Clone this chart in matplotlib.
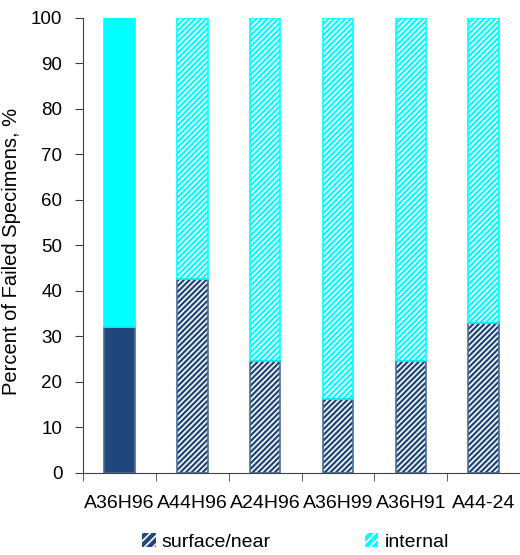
import numpy as np
import matplotlib.pyplot as plt
from matplotlib.patches import Patch

plt.rcParams['font.family'] = ['Liberation Sans', 'DejaVu Sans']
plt.rcParams['hatch.linewidth'] = 1.2

# Data
groups = ['A36H96', 'A44H96', 'A24H96', 'A36H99', 'A36H91', 'A44-24']
surface = [32.0, 42.5, 24.5, 16.3, 24.5, 33.0]
internal = [100 - v for v in surface]
hatched = [False, True, True, True, True, True]

dark = '#1F477A'
cyan = '#00FFFF'

fig = plt.figure(figsize=(5.2, 5.55), dpi=100)
ax = fig.add_axes([0.16, 0.148, 0.84, 0.82])

x = np.arange(len(groups))
w = 0.42
for i in x:
    h = '//////' if hatched[i] else None
    ax.bar(i, surface[i], w, color=dark, edgecolor='white' if h else dark,
           hatch=h, linewidth=0)
    ax.bar(i, internal[i], w, bottom=surface[i], color=cyan,
           edgecolor='white' if h else cyan, hatch=h, linewidth=0)
    # outlines
    ax.bar(i, surface[i], w, fill=False, edgecolor='#4A6E9A', linewidth=1.2)
    ax.bar(i, internal[i], w, bottom=surface[i], fill=False,
           edgecolor=cyan, linewidth=1.2)

ax.set_xlim(-0.5, len(groups) - 0.5)
ax.set_ylim(0, 100)
ax.set_yticks(np.arange(0, 101, 10))
ax.set_xticks(x)
ax.set_xticklabels(groups)
ax.set_xticks(np.arange(-0.5, len(groups), 1), minor=True)
ax.tick_params(axis='x', which='major', length=0, pad=16, labelsize=14)
ax.tick_params(axis='x', which='minor', length=6, direction='out', color='#404040')
ax.tick_params(axis='y', length=6, direction='out', labelsize=13.5, pad=9, color='#404040')
for s in ['top', 'right']:
    ax.spines[s].set_visible(False)
for s in ['left', 'bottom']:
    ax.spines[s].set_color('#404040')
ax.set_ylabel('Percent of Failed Specimens, %', fontsize=14.5)
ax.yaxis.set_label_coords(-0.142, 0.487)

handles = [Patch(facecolor=dark, edgecolor='white', hatch='////', linewidth=0),
           Patch(facecolor=cyan, edgecolor='white', hatch='////', linewidth=0)]
fig.legend(handles, ['surface/near', 'internal'], loc='center',
           bbox_to_anchor=(0.568, 0.023), ncol=2, frameon=False, fontsize=14,
           handlelength=0.7, handleheight=0.7, handletextpad=0.3,
           columnspacing=4.85)

fig.savefig('out.png', dpi=100)
